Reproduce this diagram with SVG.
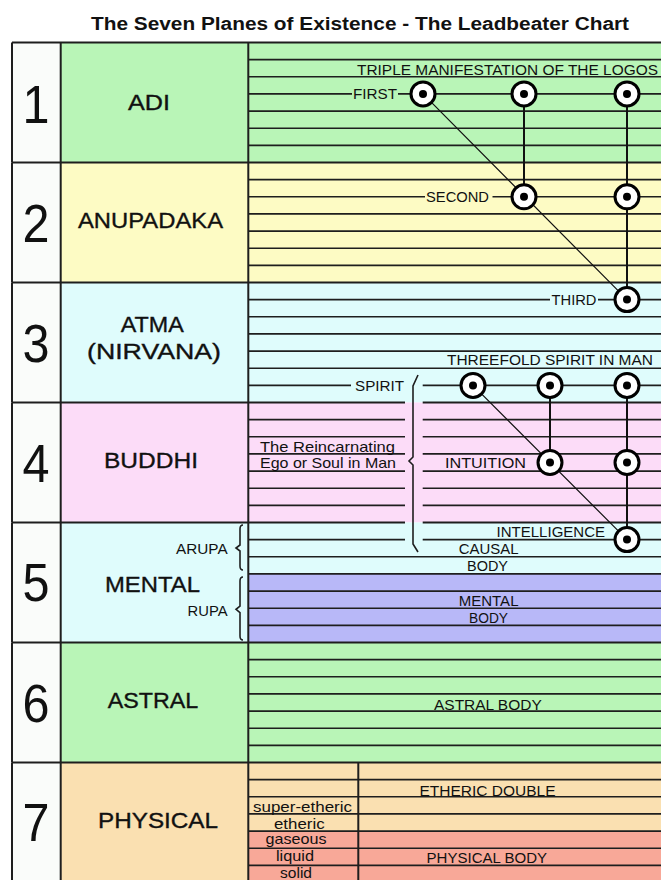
<svg xmlns="http://www.w3.org/2000/svg" xmlns:xlink="http://www.w3.org/1999/xlink" width="661" height="880" viewBox="0 0 661 880">
<style>
.bg{stroke:none}
.num{fill:#fafcfa}
.green{fill:#b9f5b7}
.yellow{fill:#fdfbc4}
.cyan{fill:#dffcfc}
.pink{fill:#fcdcf8}
.purple{fill:#b8b8f8}
.peach{fill:#fae0b1}
.salmon{fill:#f8a898}
.border{stroke:#1e1e1e;stroke-width:2;fill:none}
.sub{stroke:#1e1e1e;stroke-width:1.6;fill:none}
.digit{font-family:"Liberation Sans",Arial,sans-serif;font-size:54px;fill:#111;text-anchor:middle}
.name{font-family:"Liberation Sans",Arial,sans-serif;font-size:22px;fill:#111;stroke:#111;stroke-width:0.35;text-anchor:middle}
.lbl{font-family:"Liberation Sans",Arial,sans-serif;font-size:15px;fill:#111}
.small{font-family:"Liberation Sans",Arial,sans-serif;font-size:14px;fill:#111;text-anchor:end}
.title{font-family:"Liberation Sans",Arial,sans-serif;font-size:18px;font-weight:bold;fill:#111;text-anchor:middle}
.conn{stroke:#111;fill:none}
</style>
<defs>
<g id="logos-circle">
<circle r="12" fill="#fff" stroke="#000" stroke-width="3"/>
<circle r="4" fill="#000"/>
</g>
</defs>
<rect width="661" height="880" fill="#fff"/>
<text id="title" class="title" x="360" y="29.5" textLength="538" lengthAdjust="spacingAndGlyphs">The Seven Planes of Existence - The Leadbeater Chart</text>

<g id="plane-1">
<rect class="bg num" x="12" y="42.5" width="48.7" height="120"/>
<rect class="bg green" x="60.7" y="42.5" width="600.3" height="120"/>
<path class="sub" d="M248.3,59.6H661M248.3,76.8H661M248.3,93.9H352M398,93.9H661M248.3,111.1H661M248.3,128.2H661M248.3,145.4H661"/>
<path class="border" d="M12,42.5H661M12,42.5V162.5M60.7,42.5V162.5M248.3,42.5V162.5"/>
<text class="digit" x="36" y="123" textLength="27" lengthAdjust="spacingAndGlyphs">1</text>
<text class="name" x="149" y="110" textLength="42" lengthAdjust="spacingAndGlyphs">ADI</text>
<text class="lbl" x="357" y="74.8" textLength="301" lengthAdjust="spacingAndGlyphs">TRIPLE MANIFESTATION OF THE LOGOS</text>
<text class="lbl" x="353" y="99" textLength="44" lengthAdjust="spacingAndGlyphs">FIRST</text>
</g>

<g id="plane-2">
<rect class="bg num" x="12" y="162.5" width="48.7" height="120"/>
<rect class="bg yellow" x="60.7" y="162.5" width="600.3" height="120"/>
<path class="sub" d="M248.3,179.6H661M248.3,196.8H425M492.5,196.8H661M248.3,213.9H661M248.3,231.1H661M248.3,248.2H661M248.3,265.4H661"/>
<path class="border" d="M12,162.5H661M12,162.5V282.5M60.7,162.5V282.5M248.3,162.5V282.5"/>
<text class="digit" x="36" y="241.5" textLength="27" lengthAdjust="spacingAndGlyphs">2</text>
<text class="name" x="150.5" y="228" textLength="145" lengthAdjust="spacingAndGlyphs">ANUPADAKA</text>
<text class="lbl" x="426" y="202" textLength="63" lengthAdjust="spacingAndGlyphs">SECOND</text>
</g>

<g id="plane-3">
<rect class="bg num" x="12" y="282.5" width="48.7" height="120"/>
<rect class="bg cyan" x="60.7" y="282.5" width="600.3" height="120"/>
<path class="sub" d="M248.3,299.6H550M598,299.6H661M248.3,316.8H661M248.3,333.9H661M248.3,351.1H661M248.3,368.2H661M248.3,385.4H351M422.7,385.4H661"/>
<path class="border" d="M12,282.5H661M12,282.5V402.5M60.7,282.5V402.5M248.3,282.5V402.5"/>
<text class="digit" x="36" y="361.5" textLength="27" lengthAdjust="spacingAndGlyphs">3</text>
<text class="name" x="152.3" y="331.5" textLength="63" lengthAdjust="spacingAndGlyphs">ATMA</text>
<text class="name" x="154" y="358.5" textLength="134" lengthAdjust="spacingAndGlyphs">(NIRVANA)</text>
<text class="lbl" x="551.5" y="305" textLength="45" lengthAdjust="spacingAndGlyphs">THIRD</text>
<text class="lbl" x="447" y="365.3" textLength="206" lengthAdjust="spacingAndGlyphs">THREEFOLD SPIRIT IN MAN</text>
<text class="lbl" x="355" y="390.6" textLength="49" lengthAdjust="spacingAndGlyphs">SPIRIT</text>
</g>

<g id="plane-4">
<rect class="bg num" x="12" y="402.5" width="48.7" height="120"/>
<rect class="bg pink" x="60.7" y="402.5" width="600.3" height="120"/>
<path class="sub" d="M248.3,419.6H405M422.7,419.6H661M248.3,436.8H405M422.7,436.8H661M248.3,453.9H405M422.7,453.9H661M248.3,471.1H405M422.7,471.1H661M248.3,488.2H405M422.7,488.2H661M248.3,505.4H405M422.7,505.4H661"/>
<path class="border" d="M12,402.5H405M422.7,402.5H661M12,402.5V522.5M60.7,402.5V522.5M248.3,402.5V522.5"/>
<text class="digit" x="36" y="482" textLength="27" lengthAdjust="spacingAndGlyphs">4</text>
<text class="name" x="151" y="468" textLength="94" lengthAdjust="spacingAndGlyphs">BUDDHI</text>
<text class="lbl" x="260" y="451.8" textLength="135" lengthAdjust="spacingAndGlyphs">The Reincarnating</text>
<text class="lbl" x="260" y="468" textLength="136" lengthAdjust="spacingAndGlyphs">Ego or Soul in Man</text>
<text class="lbl" x="445" y="467.7" textLength="81" lengthAdjust="spacingAndGlyphs">INTUITION</text>
</g>

<g id="plane-5">
<rect class="bg num" x="12" y="522.5" width="48.7" height="120"/>
<rect class="bg cyan" x="60.7" y="522.5" width="600.3" height="120"/>
<rect class="bg purple" x="248.3" y="573.9" width="412.7" height="68.6"/>
<path class="sub" d="M248.3,539.6H405M422.7,539.6H661M248.3,556.8H661M248.3,573.9H661M248.3,591.1H661M248.3,608.2H661M248.3,625.4H661"/>
<path class="border" d="M12,522.5H405M422.7,522.5H661M12,522.5V642.5M60.7,522.5V642.5M248.3,522.5V642.5"/>
<path class="sub" stroke-width="1.2" d="M243,525Q240,525 240,529L240,545L236,548L240,551L240,566Q240,570 243,570M243,577Q240,577 240,581L240,606L236,609.3L240,612.6L240,636Q240,640 243,640"/>
<text class="digit" x="36" y="600.5" textLength="27" lengthAdjust="spacingAndGlyphs">5</text>
<text class="name" x="152.5" y="591.5" textLength="95" lengthAdjust="spacingAndGlyphs">MENTAL</text>
<text class="small" x="227.6" y="554.3" textLength="51.6" lengthAdjust="spacingAndGlyphs">ARUPA</text>
<text class="small" x="227.6" y="616" textLength="40" lengthAdjust="spacingAndGlyphs">RUPA</text>
<text class="lbl" x="496.6" y="536.7" textLength="108.4" lengthAdjust="spacingAndGlyphs">INTELLIGENCE</text>
<text class="lbl" x="458.7" y="554.3" textLength="59.8" lengthAdjust="spacingAndGlyphs">CAUSAL</text>
<text class="lbl" x="467" y="571" textLength="41" lengthAdjust="spacingAndGlyphs">BODY</text>
<text class="lbl" x="458.7" y="606" textLength="59.8" lengthAdjust="spacingAndGlyphs">MENTAL</text>
<text class="lbl" x="469" y="623.3" textLength="39" lengthAdjust="spacingAndGlyphs">BODY</text>
</g>

<g id="plane-6">
<rect class="bg num" x="12" y="642.5" width="48.7" height="120"/>
<rect class="bg green" x="60.7" y="642.5" width="600.3" height="120"/>
<path class="sub" d="M248.3,659.6H661M248.3,676.8H661M248.3,693.9H661M248.3,711.1H661M248.3,728.2H661M248.3,745.4H661"/>
<path class="border" d="M12,642.5H661M12,642.5V762.5M60.7,642.5V762.5M248.3,642.5V762.5"/>
<text class="digit" x="36" y="721.5" textLength="27" lengthAdjust="spacingAndGlyphs">6</text>
<text class="name" x="153" y="708" textLength="90.5" lengthAdjust="spacingAndGlyphs">ASTRAL</text>
<text class="lbl" x="434" y="710" textLength="107.7" lengthAdjust="spacingAndGlyphs">ASTRAL BODY</text>
</g>

<g id="plane-7">
<rect class="bg num" x="12" y="762.5" width="48.7" height="117.5"/>
<rect class="bg peach" x="60.7" y="762.5" width="600.3" height="117.5"/>
<rect class="bg salmon" x="248.3" y="831.1" width="412.7" height="48.9"/>
<path class="sub" d="M248.3,779.6H661M248.3,796.8H661M248.3,813.9H661M248.3,831.1H661M248.3,848.2H661M248.3,865.4H661"/>
<path class="border" d="M12,762.5H661M12,762.5V880M60.7,762.5V880M248.3,762.5V880M358.3,762.5V880"/>
<text class="digit" x="36" y="840.5" textLength="27" lengthAdjust="spacingAndGlyphs">7</text>
<text class="name" x="158" y="828" textLength="120" lengthAdjust="spacingAndGlyphs">PHYSICAL</text>
<text class="lbl" x="419.5" y="795.5" textLength="136" lengthAdjust="spacingAndGlyphs">ETHERIC  DOUBLE</text>
<text class="lbl" x="426.6" y="862.7" textLength="120.4" lengthAdjust="spacingAndGlyphs">PHYSICAL BODY</text>
<text class="lbl" x="253" y="812" textLength="99" lengthAdjust="spacingAndGlyphs">super-etheric</text>
<text class="lbl" x="274" y="828.5" textLength="50.6" lengthAdjust="spacingAndGlyphs">etheric</text>
<text class="lbl" x="265.6" y="844" textLength="61" lengthAdjust="spacingAndGlyphs">gaseous</text>
<text class="lbl" x="276" y="861" textLength="38" lengthAdjust="spacingAndGlyphs">liquid</text>
<text class="lbl" x="280" y="878" textLength="32" lengthAdjust="spacingAndGlyphs">solid</text>
</g>

<g id="ego-brace">
<path class="sub" stroke-width="1.5" d="M418,375L413,386L413,457L409,461L413,465L413,544L418,552"/>
</g>

<g id="connectors">
<path class="conn" stroke-width="1.2" d="M423,93.9L627,299.6M473,385.4L627,539.6"/>
<path class="conn" stroke-width="2" d="M524,93.9V196.8M627,93.9V299.6M550,385.4V462.5M627,385.4V539.6"/>
</g>

<g id="logos-nodes">
<use id="first-1" xlink:href="#logos-circle" x="423" y="93.9"/>
<use id="first-2" xlink:href="#logos-circle" x="524" y="93.9"/>
<use id="first-3" xlink:href="#logos-circle" x="627" y="93.9"/>
<use id="second-1" xlink:href="#logos-circle" x="524" y="196.8"/>
<use id="second-2" xlink:href="#logos-circle" x="627" y="196.8"/>
<use id="third-1" xlink:href="#logos-circle" x="627" y="299.6"/>
<use id="spirit-1" xlink:href="#logos-circle" x="473" y="385.4"/>
<use id="spirit-2" xlink:href="#logos-circle" x="550" y="385.4"/>
<use id="spirit-3" xlink:href="#logos-circle" x="627" y="385.4"/>
<use id="intuition-1" xlink:href="#logos-circle" x="550" y="462.5"/>
<use id="intuition-2" xlink:href="#logos-circle" x="627" y="462.5"/>
<use id="intelligence-1" xlink:href="#logos-circle" x="627" y="539.6"/>
</g>
</svg>
